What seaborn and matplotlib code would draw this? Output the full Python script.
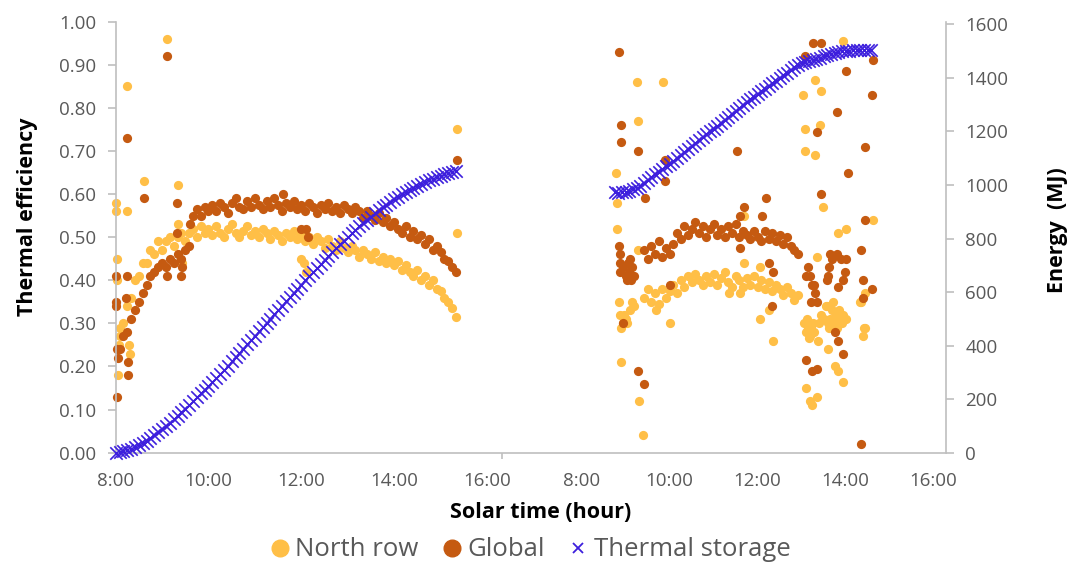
import numpy as np
import pandas as pd
import matplotlib
matplotlib.use("Agg")
import matplotlib.pyplot as plt
from matplotlib.lines import Line2D
import seaborn as sns

# ---- data (efficiency 0-1, energy in MJ, time in solar hours) ----
# day 1: 5-minute samples, north row / global start 8:05, storage starts 8:00
north_d1 = [0.27, 0.30, 0.34, 0.36, 0.40, 0.41, 0.44, 0.44, 0.47, 0.46, 0.49,
            0.47, 0.49, 0.50, 0.48, 0.50, 0.51, 0.49, 0.51, 0.52, 0.50, 0.525, 0.51,
            0.52, 0.505, 0.525, 0.51, 0.50, 0.52, 0.53, 0.51, 0.50, 0.515, 0.525, 0.505,
            0.515, 0.50, 0.52, 0.51, 0.495, 0.515, 0.505, 0.49, 0.51, 0.50, 0.515, 0.495,
            0.505, 0.49, 0.50, 0.485, 0.50, 0.49, 0.475, 0.495, 0.48, 0.47, 0.49, 0.475,
            0.465, 0.48, 0.47, 0.455, 0.47, 0.46, 0.45, 0.465, 0.445, 0.455, 0.44, 0.45,
            0.435, 0.445, 0.425, 0.435, 0.42, 0.41, 0.425, 0.40, 0.41, 0.39, 0.40, 0.38,
            0.375, 0.36, 0.35, 0.335, 0.315]
global_d1 = [0.24, 0.27, 0.28, 0.31, 0.33, 0.35, 0.37, 0.39, 0.41, 0.42, 0.43,
             0.44, 0.43, 0.45, 0.44, 0.46, 0.45, 0.47, 0.48, 0.55, 0.565, 0.55, 0.57,
             0.56, 0.575, 0.56, 0.58, 0.57, 0.555, 0.58, 0.59, 0.57, 0.565, 0.585, 0.57,
             0.59, 0.575, 0.565, 0.585, 0.57, 0.59, 0.575, 0.56, 0.58, 0.57, 0.585, 0.565,
             0.575, 0.56, 0.58, 0.57, 0.555, 0.575, 0.565, 0.58, 0.56, 0.57, 0.555, 0.575,
             0.565, 0.555, 0.57, 0.56, 0.545, 0.56, 0.55, 0.54, 0.555, 0.535, 0.545, 0.525,
             0.535, 0.52, 0.51, 0.525, 0.50, 0.515, 0.495, 0.505, 0.485, 0.495, 0.47, 0.48,
             0.465, 0.45, 0.445, 0.43, 0.42]
storage_d1 = [0, 2, 5, 9, 14, 20, 27, 35, 44, 54, 65, 76,
              88, 100, 112, 125, 138, 151, 165, 179, 193, 207, 222, 236,
              250, 265, 280, 295, 310, 325, 341, 357, 373, 389, 405, 421,
              437, 453, 469, 485, 501, 517, 533, 549, 565, 581, 597, 613,
              628, 644, 660, 675, 690, 705, 720, 735, 750, 764, 778, 792,
              806, 819, 832, 845, 858, 870, 882, 894, 905, 916, 927, 937,
              947, 956, 965, 974, 982, 990, 998, 1005, 1012, 1018, 1024, 1030,
              1035, 1040, 1044, 1048, 1052]

# scattered readings of day 1 (start-up, clouds, shut-down)
north_d1_extra_t = [8.00, 8.00, 8.02, 8.03, 8.05, 8.08, 8.10, 8.24, 8.24, 8.28, 8.30,
                    8.62, 9.10, 9.35, 9.35, 9.42, 12.00, 12.05, 12.10, 15.36, 15.36]
north_d1_extra_v = [0.58, 0.56, 0.45, 0.40, 0.18, 0.25, 0.29, 0.85, 0.56, 0.25, 0.23,
                    0.63, 0.96, 0.62, 0.53, 0.44, 0.45, 0.44, 0.42, 0.75, 0.51]
global_d1_extra_t = [8.00, 8.00, 8.01, 8.03, 8.04, 8.02, 8.24, 8.24, 8.22, 8.27, 8.27,
                     8.60, 9.10, 9.10, 9.33, 9.40, 9.42, 9.33, 9.60, 11.60, 12.00,
                     12.10, 12.15, 15.36]
global_d1_extra_v = [0.41, 0.35, 0.34, 0.24, 0.22, 0.13, 0.73, 0.41, 0.36, 0.21, 0.18,
                     0.59, 0.92, 0.41, 0.58, 0.41, 0.43, 0.51, 0.53, 0.60, 0.52,
                     0.52, 0.50, 0.68]

# day 2: 5-minute samples, steady band 9:25-12:55, storage 8:45-14:35
north_d2 = [0.36, 0.38, 0.35, 0.37, 0.345, 0.38, 0.36,
            0.375, 0.39, 0.37, 0.40, 0.385, 0.41, 0.395, 0.415, 0.40, 0.39, 0.41, 0.395,
            0.415, 0.39, 0.405, 0.42, 0.395, 0.385, 0.41, 0.40, 0.385, 0.405, 0.39, 0.41,
            0.385, 0.40, 0.38, 0.395, 0.375, 0.39, 0.38, 0.365, 0.385, 0.37, 0.355, 0.365]
global_d2 = [0.47, 0.45, 0.48, 0.46, 0.49, 0.455, 0.475,
             0.46, 0.485, 0.51, 0.495, 0.525, 0.505, 0.52, 0.535, 0.51, 0.525, 0.50, 0.52,
             0.53, 0.505, 0.52, 0.50, 0.525, 0.51, 0.53, 0.50, 0.515, 0.505, 0.495, 0.515,
             0.50, 0.49, 0.515, 0.495, 0.51, 0.49, 0.505, 0.485, 0.50, 0.48, 0.47, 0.46]
storage_d2 = [975, 970, 972,
              975, 978, 984, 990, 998, 1008, 1018, 1030, 1040, 1050, 1060, 1070,
              1080, 1090, 1101, 1112, 1123, 1134, 1145, 1156, 1167, 1178, 1189, 1200,
              1211, 1222, 1233, 1244, 1255, 1266, 1277, 1288, 1299, 1310, 1320, 1330,
              1340, 1350, 1360, 1370, 1380, 1390, 1400, 1410, 1420, 1430, 1440, 1448,
              1455, 1460, 1464, 1468, 1472, 1476, 1481, 1486, 1490, 1494, 1497, 1499,
              1500, 1502, 1503, 1503, 1504, 1503, 1504, 1503]

north_d2_extra_t = [8.78, 8.80, 8.80, 8.85, 8.87, 8.90, 8.93, 8.97, 9.00, 9.03, 8.90,
                    9.25, 9.28, 9.28, 9.30, 9.40, 9.10, 9.15, 9.20, 9.86, 10.00, 9.70,
                    11.70, 11.60, 11.70, 12.05, 12.25, 11.35, 12.35, 12.05,
                    13.04, 13.08, 13.08, 13.30, 13.45, 13.42, 13.30, 13.48, 13.82,
                    14.02, 14.63, 13.34, 13.95,
                    13.05, 13.10, 13.12, 13.15, 13.18, 13.22, 13.25, 13.28, 13.16,
                    13.38, 13.40, 13.45, 13.50, 13.55, 13.57, 13.60, 13.62, 13.65,
                    13.70, 13.72, 13.75, 13.78, 13.80, 13.85, 13.88, 13.92, 13.95,
                    14.00, 13.60, 13.76, 13.83, 13.95, 13.11, 13.34, 13.23, 13.20,
                    14.33, 14.36, 14.44, 14.42, 14.45, 14.40]
north_d2_extra_v = [0.65, 0.58, 0.52, 0.35, 0.32, 0.29, 0.30, 0.32, 0.31, 0.30, 0.21,
                    0.86, 0.77, 0.47, 0.12, 0.04, 0.33, 0.35, 0.34, 0.86, 0.30, 0.33,
                    0.55, 0.37, 0.44, 0.43, 0.33, 0.37, 0.26, 0.31,
                    0.83, 0.75, 0.70, 0.865, 0.84, 0.76, 0.69, 0.57, 0.51,
                    0.52, 0.54, 0.455, 0.955,
                    0.30, 0.28, 0.31, 0.29, 0.27, 0.29, 0.30, 0.28, 0.265,
                    0.26, 0.30, 0.32, 0.31, 0.34, 0.34, 0.30, 0.29, 0.31,
                    0.33, 0.35, 0.30, 0.32, 0.29, 0.33, 0.31, 0.30, 0.32,
                    0.31, 0.24, 0.20, 0.19, 0.165, 0.15, 0.13, 0.11, 0.12,
                    0.35, 0.35, 0.37, 0.29, 0.29, 0.27]
global_d2_extra_t = [8.86, 8.90, 8.90, 9.28, 9.43, 8.86, 8.87, 8.88, 8.87, 8.95, 9.00,
                     9.02, 9.05, 9.08, 9.10, 9.12, 9.15, 9.18, 8.94, 9.28, 9.41, 9.89,
                     9.89, 10.00,
                     11.52, 12.20, 11.70, 12.10, 11.60, 11.60, 12.25, 12.36, 12.32,
                     13.08, 13.27, 13.45, 14.02, 14.63, 14.59, 13.80, 13.34, 14.44,
                     14.06, 13.45, 14.44, 14.36, 14.40, 14.59, 14.40, 14.36,
                     13.10, 13.15, 13.20, 13.23, 13.28, 13.30, 13.35, 13.22, 13.64,
                     13.70, 13.80, 13.90, 14.00, 13.62, 13.60, 13.58, 13.83, 13.95,
                     13.98, 13.76, 13.83, 13.95, 13.11, 13.23, 13.34]
global_d2_extra_v = [0.93, 0.76, 0.72, 0.70, 0.59, 0.48, 0.46, 0.44, 0.42, 0.43, 0.41,
                     0.40, 0.44, 0.42, 0.45, 0.40, 0.43, 0.41, 0.30, 0.19, 0.16, 0.68,
                     0.63, 0.39,
                     0.70, 0.59, 0.57, 0.55, 0.55, 0.475, 0.44, 0.42, 0.34,
                     0.92, 0.95, 0.95, 0.885, 0.91, 0.83, 0.79, 0.745, 0.71,
                     0.65, 0.60, 0.54, 0.47, 0.40, 0.38, 0.36, 0.02,
                     0.41, 0.43, 0.41, 0.39, 0.39, 0.37, 0.35, 0.35, 0.46,
                     0.45, 0.46, 0.45, 0.45, 0.43, 0.41, 0.40, 0.385, 0.40,
                     0.42, 0.28, 0.26, 0.23, 0.215, 0.19, 0.195]

hour_ticks = [8, 10, 12, 14, 16]
eff_ticks = np.arange(0, 1.01, 0.1)
mj_ticks = np.arange(0, 1601, 200)

C_NORTH = "#FFBF47"
C_GLOBAL = "#C55A11"
C_STORE = "#3D1FDD"
C_TEXT = "#595959"
C_AXIS = "#BFBFBF"

# the two days share one axis; day 2 is placed after a gap and drawn slightly narrower
D2_START = 10.04
D2_SCALE = 0.948


def to_pos(day, t):
    t = np.asarray(t, dtype=float)
    if day == 1:
        return t - 8
    return D2_START + (t - 8) * D2_SCALE


def grid(start, vals):
    return start + np.arange(len(vals)) * 5 / 60


def frame(day, t, v):
    return pd.DataFrame({"pos": to_pos(day, t), "val": v})


north = pd.concat([
    frame(1, grid(8 + 5 / 60, north_d1), north_d1),
    frame(1, north_d1_extra_t, north_d1_extra_v),
    frame(2, grid(9 + 25 / 60, north_d2), north_d2),
    frame(2, north_d2_extra_t, north_d2_extra_v),
])
glob = pd.concat([
    frame(1, grid(8 + 5 / 60, global_d1), global_d1),
    frame(1, global_d1_extra_t, global_d1_extra_v),
    frame(2, grid(9 + 25 / 60, global_d2), global_d2),
    frame(2, global_d2_extra_t, global_d2_extra_v),
])
storage = pd.concat([
    frame(1, grid(8.0, storage_d1), storage_d1),
    frame(2, grid(8.75, storage_d2), storage_d2),
])

sns.set_theme(style="white")
plt.rcParams["font.family"] = ["Open Sans", "DejaVu Sans"]

fig = plt.figure(figsize=(10.73, 5.65), dpi=100)
ax = fig.add_axes([0.1078, 0.1988, 0.7738, 0.7628])

sns.scatterplot(data=north, x="pos", y="val", ax=ax, color=C_NORTH, s=44,
                linewidth=0, clip_on=False, legend=False)
sns.scatterplot(data=glob, x="pos", y="val", ax=ax, color=C_GLOBAL, s=44,
                linewidth=0, clip_on=False, legend=False)

ax2 = ax.twinx()
sns.scatterplot(data=storage, x="pos", y="val", ax=ax2, color=C_STORE, marker="x",
                s=80, linewidth=1.2, clip_on=False, legend=False)

ax.set_xlim(0, 17.89)
ax.set_ylim(0, 1.0)
ax2.set_ylim(0, 1610)

xt = list(to_pos(1, hour_ticks)) + list(to_pos(2, hour_ticks))
ax.set_xticks(xt)
ax.set_xticklabels([f"{h}:00" for h in hour_ticks] * 2)
ax.set_xticks([8.33], minor=True)
ax.set_yticks(eff_ticks)
ax.set_yticklabels([f"{v:.2f}" for v in eff_ticks])
ax2.set_yticks(mj_ticks)
ax2.set_yticklabels([str(v) for v in mj_ticks])

ax.set_xlabel("")
ax.set_ylabel("")
ax2.set_ylabel("")

for a in (ax, ax2):
    for side in ("top", "left", "right", "bottom"):
        a.spines[side].set_visible(False)
ax.spines["left"].set_visible(True)
ax.spines["bottom"].set_visible(True)
ax2.spines["right"].set_visible(True)
for sp in (ax.spines["left"], ax.spines["bottom"], ax2.spines["right"]):
    sp.set_color(C_AXIS)
    sp.set_linewidth(1.2)

ax.tick_params(axis="both", which="both", colors=C_AXIS, labelcolor=C_TEXT,
               labelsize=13.5, length=6, width=1.2, direction="out")
ax.tick_params(axis="y", pad=8)
ax.tick_params(axis="x", pad=8)
ax.tick_params(axis="x", which="minor", length=4, bottom=True)
ax2.tick_params(axis="y", colors=C_AXIS, labelcolor=C_TEXT, labelsize=13.5,
                length=6, width=1.2, direction="out", pad=8)

fig.text(28 / 1073, 1 - 217 / 565, "Thermal efficiency", rotation=90, ha="center",
         va="center", fontsize=15.5, fontweight="bold", color="black")
fig.text(1057 / 1073, 1 - 230 / 565, "Energy  (MJ)", rotation=90, ha="center",
         va="center", fontsize=15.5, fontweight="bold", color="black")
fig.text(541 / 1073, 1 - 512 / 565, "Solar time (hour)", ha="center", va="center",
         fontsize=15.5, fontweight="bold", color="black")

handles = [
    Line2D([], [], linestyle="none", marker="o", markersize=12, color=C_NORTH),
    Line2D([], [], linestyle="none", marker="o", markersize=12, color=C_GLOBAL),
    Line2D([], [], linestyle="none", marker="x", markersize=7, markeredgewidth=1.3,
           color=C_STORE),
]
leg = fig.legend(handles, ["North row", "Global", "Thermal storage"], loc="center",
                 bbox_to_anchor=(530 / 1073, 1 - 550 / 565), ncol=3, frameon=False,
                 fontsize=18.5, handletextpad=0.2, columnspacing=0.9, handlelength=0.8)
for t in leg.get_texts():
    t.set_color(C_TEXT)

fig.savefig("out.png", dpi=100)
